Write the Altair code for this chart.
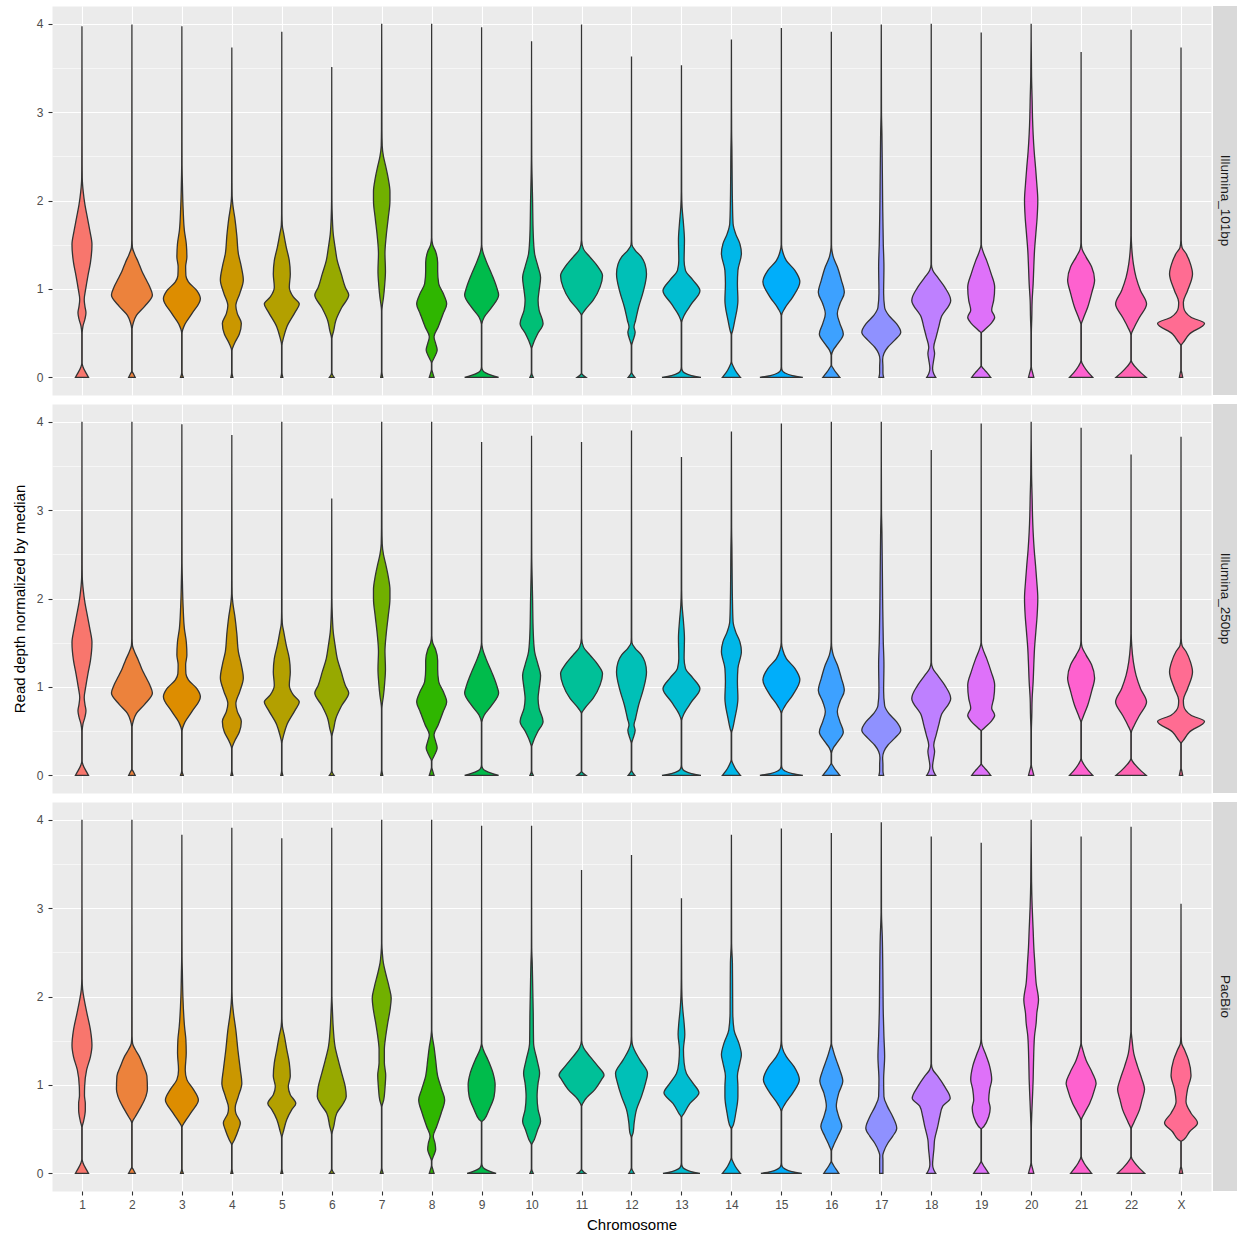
import math
import altair as alt
import pandas as pd

# Chromosomes on the x axis and the three sequencing runs (one row each)
CHROMS = [str(i) for i in range(1, 23)] + ["X"]
PANELS = ["Illumina_101bp", "Illumina_250bp", "PacBio"]

# Violin outlines: (read depth, half width in chromosome-slot units) from the bottom up.
# Both Illumina runs share the same density outline.
illumina_profile = {
    "1": [(0, 0.13), (0.05, 0.08), (0.12, 0.02), (0.16, 0.004), (0.5, 0.004), (0.58, 0.02), (0.66, 0.06), (0.73, 0.08), (0.8, 0.06), (0.88, 0.045), (1.0, 0.075), (1.15, 0.12), (1.3, 0.17), (1.5, 0.2), (1.65, 0.16), (1.8, 0.11), (1.95, 0.06), (2.1, 0.025), (2.25, 0.006), (2.4, 0.004)],
    "2": [(0, 0.065), (0.04, 0.03), (0.07, 0.004), (0.55, 0.004), (0.62, 0.03), (0.7, 0.09), (0.8, 0.25), (0.93, 0.41), (1.02, 0.36), (1.12, 0.27), (1.2, 0.2), (1.3, 0.13), (1.4, 0.05), (1.47, 0.01), (1.55, 0.004)],
    "3": [(0, 0.027), (0.05, 0.004), (0.5, 0.004), (0.6, 0.06), (0.72, 0.2), (0.89, 0.37), (0.98, 0.3), (1.08, 0.13), (1.15, 0.08), (1.25, 0.075), (1.36, 0.1), (1.5, 0.09), (1.66, 0.05), (1.9, 0.025), (2.2, 0.01), (2.4, 0.004)],
    "4": [(0, 0.02), (0.05, 0.004), (0.3, 0.004), (0.38, 0.05), (0.49, 0.15), (0.61, 0.19), (0.72, 0.11), (0.81, 0.08), (0.95, 0.16), (1.1, 0.23), (1.25, 0.19), (1.4, 0.13), (1.6, 0.1), (1.8, 0.06), (1.95, 0.02), (2.05, 0.006), (2.2, 0.004)],
    "5": [(0, 0.02), (0.05, 0.004), (0.36, 0.004), (0.46, 0.04), (0.57, 0.1), (0.74, 0.27), (0.83, 0.35), (0.91, 0.23), (1.02, 0.15), (1.17, 0.17), (1.32, 0.15), (1.47, 0.09), (1.62, 0.04), (1.72, 0.01), (1.85, 0.004)],
    "6": [(0, 0.047), (0.05, 0.004), (0.44, 0.004), (0.53, 0.04), (0.64, 0.08), (0.79, 0.2), (0.93, 0.34), (1.02, 0.27), (1.17, 0.19), (1.32, 0.11), (1.47, 0.067), (1.62, 0.03), (1.8, 0.012), (2.0, 0.004)],
    "7": [(0, 0.02), (0.06, 0.004), (0.75, 0.004), (0.8, 0.01), (0.9, 0.035), (1.05, 0.06), (1.2, 0.075), (1.4, 0.065), (1.6, 0.09), (1.8, 0.13), (2.0, 0.165), (2.1, 0.165), (2.25, 0.13), (2.4, 0.075), (2.5, 0.035), (2.62, 0.01), (2.8, 0.005)],
    "8": [(0, 0.047), (0.05, 0.02), (0.09, 0.004), (0.16, 0.004), (0.22, 0.05), (0.31, 0.11), (0.38, 0.08), (0.46, 0.047), (0.57, 0.13), (0.72, 0.23), (0.83, 0.3), (0.95, 0.23), (1.06, 0.14), (1.2, 0.12), (1.3, 0.12), (1.42, 0.08), (1.5, 0.02), (1.58, 0.004)],
    "9": [(0, 0.34), (0.02, 0.22), (0.05, 0.08), (0.08, 0.02), (0.12, 0.004), (0.6, 0.004), (0.68, 0.05), (0.79, 0.2), (0.93, 0.34), (1.02, 0.3), (1.17, 0.2), (1.32, 0.087), (1.43, 0.02), (1.5, 0.004)],
    "10": [(0, 0.033), (0.05, 0.004), (0.32, 0.004), (0.38, 0.033), (0.49, 0.12), (0.61, 0.23), (0.76, 0.15), (0.87, 0.13), (0.98, 0.15), (1.13, 0.18), (1.25, 0.13), (1.4, 0.06), (1.62, 0.033), (2.0, 0.02), (2.26, 0.01), (2.5, 0.004)],
    "11": [(0, 0.087), (0.05, 0.004), (0.7, 0.004), (0.76, 0.067), (0.87, 0.23), (1.02, 0.37), (1.15, 0.42), (1.25, 0.33), (1.36, 0.17), (1.45, 0.04), (1.55, 0.004)],
    "12": [(0, 0.067), (0.06, 0.004), (0.36, 0.004), (0.42, 0.033), (0.51, 0.073), (0.57, 0.05), (0.64, 0.08), (0.79, 0.14), (0.98, 0.24), (1.17, 0.3), (1.28, 0.27), (1.36, 0.2), (1.44, 0.07), (1.5, 0.01), (1.56, 0.004)],
    "13": [(0, 0.39), (0.02, 0.2), (0.05, 0.06), (0.08, 0.015), (0.12, 0.004), (0.62, 0.004), (0.7, 0.053), (0.83, 0.2), (0.98, 0.37), (1.1, 0.23), (1.21, 0.08), (1.32, 0.053), (1.55, 0.06), (1.74, 0.04), (1.92, 0.013), (2.1, 0.004)],
    "14": [(0, 0.18), (0.05, 0.11), (0.12, 0.04), (0.18, 0.004), (0.48, 0.004), (0.53, 0.027), (0.64, 0.067), (0.87, 0.13), (1.06, 0.12), (1.21, 0.13), (1.4, 0.2), (1.51, 0.17), (1.62, 0.087), (1.74, 0.033), (2.0, 0.02), (2.57, 0.01), (2.8, 0.004)],
    "15": [(0, 0.43), (0.02, 0.22), (0.05, 0.07), (0.08, 0.015), (0.12, 0.004), (0.7, 0.004), (0.78, 0.067), (0.91, 0.23), (1.08, 0.37), (1.21, 0.27), (1.32, 0.1), (1.42, 0.027), (1.5, 0.004)],
    "16": [(0, 0.17), (0.05, 0.1), (0.1, 0.04), (0.14, 0.004), (0.25, 0.004), (0.31, 0.04), (0.38, 0.13), (0.49, 0.24), (0.61, 0.17), (0.72, 0.12), (0.83, 0.17), (0.96, 0.26), (1.1, 0.2), (1.25, 0.12), (1.36, 0.04), (1.43, 0.013), (1.5, 0.004)],
    "17": [(0, 0.047), (0.05, 0.033), (0.12, 0.033), (0.2, 0.027), (0.27, 0.053), (0.34, 0.13), (0.42, 0.27), (0.51, 0.39), (0.61, 0.3), (0.7, 0.15), (0.79, 0.067), (0.95, 0.047), (1.25, 0.053), (1.51, 0.04), (2.0, 0.027), (2.75, 0.013), (3.0, 0.004)],
    "18": [(0, 0.09), (0.04, 0.05), (0.1, 0.027), (0.2, 0.05), (0.27, 0.067), (0.34, 0.05), (0.46, 0.1), (0.57, 0.15), (0.68, 0.2), (0.87, 0.39), (1.02, 0.27), (1.13, 0.13), (1.21, 0.03), (1.28, 0.004)],
    "19": [(0, 0.19), (0.05, 0.12), (0.1, 0.04), (0.13, 0.004), (0.5, 0.004), (0.53, 0.053), (0.61, 0.2), (0.68, 0.27), (0.76, 0.21), (0.87, 0.25), (1.02, 0.27), (1.17, 0.2), (1.32, 0.11), (1.43, 0.033), (1.5, 0.004)],
    "20": [(0, 0.053), (0.05, 0.03), (0.12, 0.004), (0.5, 0.004), (0.68, 0.013), (0.87, 0.02), (1.06, 0.04), (1.25, 0.053), (1.43, 0.067), (1.62, 0.093), (1.81, 0.12), (2.0, 0.133), (2.19, 0.113), (2.38, 0.087), (2.56, 0.06), (2.75, 0.04), (2.94, 0.027), (3.13, 0.02), (3.4, 0.008)],
    "21": [(0, 0.23), (0.05, 0.15), (0.12, 0.06), (0.19, 0.004), (0.6, 0.004), (0.66, 0.04), (0.79, 0.13), (0.95, 0.21), (1.1, 0.27), (1.25, 0.21), (1.36, 0.1), (1.45, 0.02), (1.52, 0.004)],
    "22": [(0, 0.3), (0.05, 0.2), (0.12, 0.08), (0.19, 0.004), (0.48, 0.004), (0.57, 0.067), (0.68, 0.17), (0.83, 0.31), (0.98, 0.19), (1.13, 0.1), (1.28, 0.047), (1.47, 0.013), (1.6, 0.004)],
    "X": [(0, 0.033), (0.05, 0.015), (0.08, 0.004), (0.36, 0.004), (0.4, 0.053), (0.49, 0.17), (0.61, 0.47), (0.68, 0.2), (0.79, 0.053), (0.85, 0.047), (0.98, 0.13), (1.17, 0.23), (1.28, 0.19), (1.4, 0.1), (1.47, 0.02), (1.55, 0.004)],
}

pacbio_profile = {
    "1": [(0, 0.13), (0.05, 0.08), (0.12, 0.02), (0.16, 0.004), (0.52, 0.004), (0.59, 0.033), (0.72, 0.067), (0.79, 0.067), (0.88, 0.05), (0.98, 0.053), (1.17, 0.093), (1.32, 0.17), (1.45, 0.2), (1.62, 0.17), (1.81, 0.1), (1.96, 0.047), (2.08, 0.013), (2.2, 0.004)],
    "2": [(0, 0.067), (0.04, 0.03), (0.07, 0.004), (0.57, 0.004), (0.64, 0.067), (0.74, 0.17), (0.87, 0.28), (0.95, 0.31), (1.1, 0.3), (1.21, 0.23), (1.32, 0.15), (1.4, 0.067), (1.47, 0.013), (1.55, 0.004)],
    "3": [(0, 0.027), (0.05, 0.004), (0.52, 0.004), (0.59, 0.067), (0.7, 0.2), (0.83, 0.33), (0.95, 0.23), (1.06, 0.1), (1.17, 0.067), (1.36, 0.087), (1.51, 0.08), (1.66, 0.053), (2.0, 0.02), (2.26, 0.01), (2.45, 0.004)],
    "4": [(0, 0.02), (0.05, 0.004), (0.32, 0.004), (0.38, 0.053), (0.49, 0.13), (0.57, 0.17), (0.68, 0.08), (0.74, 0.067), (0.87, 0.13), (1.02, 0.2), (1.17, 0.17), (1.4, 0.12), (1.62, 0.08), (1.81, 0.033), (1.92, 0.013), (2.05, 0.004)],
    "5": [(0, 0.02), (0.05, 0.004), (0.4, 0.004), (0.49, 0.04), (0.61, 0.1), (0.72, 0.2), (0.79, 0.28), (0.89, 0.17), (0.98, 0.13), (1.1, 0.17), (1.25, 0.15), (1.4, 0.1), (1.55, 0.053), (1.66, 0.013), (1.75, 0.004)],
    "6": [(0, 0.047), (0.05, 0.004), (0.44, 0.004), (0.53, 0.04), (0.68, 0.1), (0.79, 0.23), (0.87, 0.29), (0.98, 0.27), (1.13, 0.2), (1.28, 0.13), (1.43, 0.067), (1.62, 0.033), (1.85, 0.013), (2.0, 0.004)],
    "7": [(0, 0.027), (0.06, 0.004), (0.75, 0.004), (0.83, 0.04), (0.98, 0.067), (1.11, 0.08), (1.25, 0.053), (1.4, 0.053), (1.55, 0.08), (1.7, 0.12), (1.85, 0.167), (1.98, 0.19), (2.11, 0.147), (2.26, 0.08), (2.38, 0.033), (2.49, 0.013), (2.6, 0.004)],
    "8": [(0, 0.047), (0.05, 0.02), (0.09, 0.004), (0.14, 0.004), (0.2, 0.04), (0.27, 0.08), (0.34, 0.067), (0.42, 0.033), (0.53, 0.1), (0.68, 0.19), (0.83, 0.26), (0.95, 0.2), (1.1, 0.12), (1.28, 0.08), (1.43, 0.047), (1.55, 0.013), (1.62, 0.004)],
    "9": [(0, 0.29), (0.02, 0.18), (0.05, 0.06), (0.08, 0.015), (0.12, 0.004), (0.58, 0.004), (0.61, 0.053), (0.72, 0.15), (0.87, 0.25), (1.0, 0.27), (1.13, 0.23), (1.28, 0.13), (1.4, 0.033), (1.47, 0.004)],
    "10": [(0, 0.033), (0.05, 0.004), (0.32, 0.004), (0.38, 0.053), (0.49, 0.12), (0.59, 0.18), (0.72, 0.13), (0.87, 0.11), (1.02, 0.13), (1.13, 0.16), (1.28, 0.11), (1.47, 0.04), (1.81, 0.033), (2.19, 0.02), (2.38, 0.013), (2.55, 0.004)],
    "11": [(0, 0.08), (0.05, 0.004), (0.76, 0.004), (0.83, 0.067), (0.95, 0.27), (1.06, 0.4), (1.11, 0.45), (1.21, 0.33), (1.32, 0.17), (1.42, 0.04), (1.5, 0.004)],
    "12": [(0, 0.053), (0.06, 0.004), (0.4, 0.004), (0.46, 0.033), (0.57, 0.053), (0.72, 0.1), (0.87, 0.2), (1.02, 0.28), (1.13, 0.32), (1.28, 0.17), (1.4, 0.053), (1.47, 0.013), (1.55, 0.004)],
    "13": [(0, 0.37), (0.02, 0.19), (0.05, 0.06), (0.08, 0.015), (0.12, 0.004), (0.63, 0.004), (0.68, 0.053), (0.79, 0.17), (0.91, 0.35), (1.02, 0.23), (1.13, 0.1), (1.25, 0.053), (1.4, 0.04), (1.57, 0.067), (1.7, 0.053), (1.85, 0.027), (2.0, 0.01), (2.2, 0.004)],
    "14": [(0, 0.18), (0.05, 0.11), (0.12, 0.04), (0.18, 0.004), (0.5, 0.004), (0.55, 0.04), (0.68, 0.087), (0.87, 0.13), (0.98, 0.13), (1.1, 0.12), (1.25, 0.17), (1.34, 0.2), (1.47, 0.15), (1.62, 0.053), (1.81, 0.027), (2.38, 0.02), (2.6, 0.004)],
    "15": [(0, 0.41), (0.02, 0.21), (0.05, 0.07), (0.08, 0.015), (0.12, 0.004), (0.7, 0.004), (0.78, 0.067), (0.91, 0.23), (1.06, 0.36), (1.21, 0.25), (1.32, 0.1), (1.42, 0.02), (1.5, 0.004)],
    "16": [(0, 0.15), (0.05, 0.09), (0.1, 0.035), (0.14, 0.004), (0.25, 0.004), (0.31, 0.04), (0.42, 0.13), (0.53, 0.21), (0.64, 0.15), (0.76, 0.1), (0.91, 0.15), (1.04, 0.23), (1.17, 0.17), (1.28, 0.1), (1.4, 0.033), (1.47, 0.004)],
    "17": [(0, 0.033), (0.05, 0.033), (0.15, 0.033), (0.2, 0.03), (0.25, 0.053), (0.34, 0.13), (0.42, 0.23), (0.51, 0.31), (0.64, 0.23), (0.76, 0.12), (0.87, 0.053), (1.06, 0.047), (1.32, 0.067), (1.55, 0.053), (1.81, 0.04), (2.19, 0.033), (2.68, 0.02), (2.95, 0.004)],
    "18": [(0, 0.09), (0.04, 0.05), (0.1, 0.027), (0.2, 0.04), (0.27, 0.053), (0.38, 0.067), (0.53, 0.13), (0.64, 0.17), (0.76, 0.23), (0.85, 0.38), (0.98, 0.27), (1.1, 0.13), (1.17, 0.033), (1.24, 0.004)],
    "19": [(0, 0.15), (0.05, 0.09), (0.1, 0.035), (0.14, 0.004), (0.5, 0.004), (0.53, 0.053), (0.64, 0.15), (0.74, 0.18), (0.83, 0.15), (0.95, 0.17), (1.06, 0.21), (1.21, 0.17), (1.36, 0.08), (1.45, 0.02), (1.52, 0.004)],
    "20": [(0, 0.053), (0.05, 0.03), (0.12, 0.004), (0.5, 0.004), (0.68, 0.013), (0.87, 0.027), (1.06, 0.04), (1.25, 0.047), (1.55, 0.067), (1.7, 0.1), (1.81, 0.113), (1.96, 0.147), (2.15, 0.1), (2.38, 0.073), (2.56, 0.053), (2.75, 0.04), (3.02, 0.02), (3.3, 0.008)],
    "21": [(0, 0.21), (0.05, 0.14), (0.12, 0.055), (0.19, 0.004), (0.6, 0.004), (0.68, 0.067), (0.79, 0.17), (0.95, 0.27), (1.02, 0.3), (1.13, 0.23), (1.28, 0.1), (1.4, 0.033), (1.47, 0.004)],
    "22": [(0, 0.27), (0.05, 0.18), (0.12, 0.07), (0.19, 0.004), (0.5, 0.004), (0.57, 0.053), (0.72, 0.17), (0.83, 0.22), (0.95, 0.27), (1.06, 0.22), (1.21, 0.13), (1.36, 0.053), (1.51, 0.02), (1.6, 0.004)],
    "X": [(0, 0.033), (0.05, 0.015), (0.08, 0.004), (0.36, 0.004), (0.38, 0.053), (0.47, 0.17), (0.57, 0.33), (0.68, 0.2), (0.81, 0.1), (0.95, 0.13), (1.11, 0.2), (1.28, 0.15), (1.4, 0.067), (1.47, 0.013), (1.55, 0.004)],
}

# Highest normalized depth reached by each chromosome (end of the thin tail)
tail_top = {
    "Illumina_101bp": [3.97, 3.99, 3.97, 3.73, 3.91, 3.51, 4.0, 4.0, 3.96, 3.80, 3.99, 3.63, 3.53, 3.82, 3.95, 3.91, 3.99, 4.0, 3.90, 4.0, 3.68, 3.93, 3.73],
    "Illumina_250bp": [4.0, 4.0, 3.97, 3.85, 4.0, 3.13, 4.0, 4.0, 3.77, 3.84, 3.77, 3.90, 3.60, 3.89, 3.98, 4.0, 4.0, 3.68, 3.98, 4.0, 3.93, 3.63, 3.83],
    "PacBio": [4.0, 4.0, 3.83, 3.91, 3.79, 3.91, 4.0, 4.0, 3.93, 3.93, 3.43, 3.60, 3.11, 3.83, 3.90, 3.85, 3.97, 3.81, 3.74, 4.0, 3.81, 3.92, 3.05],
}


def hue_colour(h, c=100.0, l=65.0):
    """Polar LUV (HCL) to sRGB hex, as used by ggplot's default discrete palette."""
    xn, yn, zn = 95.047, 100.0, 108.883
    y = yn * ((l + 16) / 116) ** 3
    t = xn + 15 * yn + 3 * zn
    un, vn = 4 * xn / t, 9 * yn / t
    u = c * math.cos(math.radians(h)) / (13 * l) + un
    v = c * math.sin(math.radians(h)) / (13 * l) + vn
    x = y * 9 * u / (4 * v)
    z = y * (12 - 3 * u - 20 * v) / (4 * v)
    x, y, z = x / 100, y / 100, z / 100
    lin = [
        3.240479 * x - 1.537150 * y - 0.498535 * z,
        -0.969256 * x + 1.875992 * y + 0.041556 * z,
        0.055648 * x - 0.204043 * y + 1.057311 * z,
    ]
    out = []
    for ch in lin:
        ch = 12.92 * ch if ch <= 0.0031308 else 1.055 * ch ** (1 / 2.4) - 0.055
        out.append(int(round(min(max(ch, 0.0), 1.0) * 255)))
    return "#%02X%02X%02X" % tuple(out)


PALETTE = [hue_colour(15 + i * 360 / len(CHROMS)) for i in range(len(CHROMS))]

rows = []
for panel in PANELS:
    profile = pacbio_profile if panel == "PacBio" else illumina_profile
    for pos, chrom in enumerate(CHROMS, start=1):
        for depth, half in profile[chrom]:
            rows.append({"panel": panel, "chrom": chrom, "pos": pos, "depth": depth, "half": half})
        rows.append({"panel": panel, "chrom": chrom, "pos": pos, "depth": tail_top[panel][pos - 1], "half": 0.0})
violins = pd.DataFrame(rows)
strips = pd.DataFrame({"panel": PANELS})

W, H = 1159, 389
FONT = "Liberation Sans"
LABEL_EXPR = "[" + ",".join("'%s'" % c for c in CHROMS) + "][datum.value - 1]"
MINOR = "datum.value % 1 != 0"


def y_axis(title):
    return alt.Axis(
        values=[i / 2 for i in range(9)],
        labelExpr="datum.value % 1 ? '' : format(datum.value, 'd')",
        grid=True,
        gridColor="#FFFFFF",
        gridWidth={"condition": {"test": MINOR, "value": 0.55}, "value": 1.1},
        tickOpacity={"condition": {"test": MINOR, "value": 0}, "value": 1},
        tickSize=4,
        tickColor="#333333",
        tickWidth=1.1,
        labelColor="#4D4D4D",
        labelFontSize=12,
        labelPadding=5,
        domain=False,
        title=title,
        titleFontSize=15,
        titleFontWeight="normal",
        titleColor="#000000",
        titlePadding=9,
    )


def x_axis(bottom):
    if bottom:
        return alt.Axis(
            values=list(range(1, len(CHROMS) + 1)),
            labelExpr=LABEL_EXPR,
            grid=True,
            gridColor="#FFFFFF",
            gridWidth=1.1,
            tickSize=4,
            tickColor="#333333",
            tickWidth=1.1,
            labelColor="#4D4D4D",
            labelFontSize=12,
            labelPadding=4,
            domain=False,
            title="Chromosome",
            titleFontSize=15,
            titleFontWeight="normal",
            titleColor="#000000",
            titlePadding=7,
        )
    return alt.Axis(
        values=list(range(1, len(CHROMS) + 1)),
        grid=True,
        gridColor="#FFFFFF",
        gridWidth=1.1,
        labels=False,
        ticks=False,
        domain=False,
        title=None,
    )


def panel_chart(name, bottom, title):
    areas = (
        alt.Chart(violins)
        .transform_filter(alt.datum.panel == name)
        .transform_calculate(lo="datum.pos - datum.half", hi="datum.pos + datum.half")
        .mark_area(orient="horizontal", interpolate="monotone", stroke="#333333",
                   strokeWidth=1.3, opacity=1)
        .encode(
            y=alt.Y("depth:Q", scale=alt.Scale(domain=[-0.2, 4.2], nice=False, zero=False),
                    axis=y_axis(title)),
            x=alt.X("lo:Q", scale=alt.Scale(domain=[0.4, 23.6], nice=False, zero=False),
                    axis=x_axis(bottom)),
            x2="hi:Q",
            color=alt.Color("chrom:N", scale=alt.Scale(domain=CHROMS, range=PALETTE), legend=None),
        )
    )
    strip_bg = (
        alt.Chart(strips)
        .transform_filter(alt.datum.panel == name)
        .mark_rect(color="#D9D9D9")
        .encode(x=alt.value(W + 2), x2=alt.value(W + 26), y=alt.value(0), y2=alt.value(H))
    )
    strip_text = (
        alt.Chart(strips)
        .transform_filter(alt.datum.panel == name)
        .mark_text(angle=90, fontSize=13.5, color="#1A1A1A", font=FONT)
        .encode(x=alt.value(W + 14), y=alt.value(H / 2), text="panel:N")
    )
    return alt.layer(areas, strip_bg, strip_text).properties(width=W, height=H)


chart = (
    alt.vconcat(
        panel_chart("Illumina_101bp", False, None),
        panel_chart("Illumina_250bp", False, "Read depth normalized by median"),
        panel_chart("PacBio", True, None),
        spacing=7,
    )
    .properties(padding={"left": 11, "top": 5, "right": 0, "bottom": 2}, background="#FFFFFF")
    .configure(font=FONT)
    .configure_view(fill="#EBEBEB", stroke="transparent")
)

chart.save("out.html", embed_options={"renderer": "svg", "actions": False})
